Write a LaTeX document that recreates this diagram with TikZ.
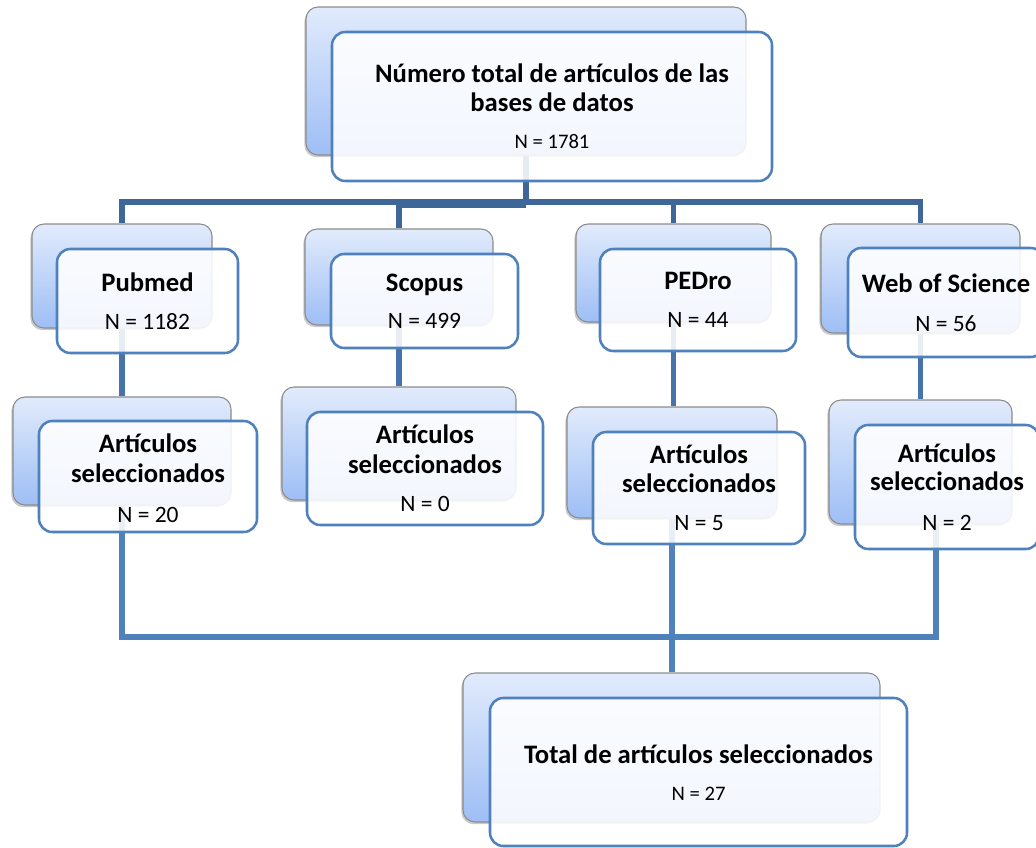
\documentclass[tikz,border=0pt]{standalone}
\usepackage{fontspec}
\setmainfont{Carlito}
\usetikzlibrary{fit,shadows}
\definecolor{backtop}{HTML}{E1EBFC}
\definecolor{backbot}{HTML}{9EBEF5}
\definecolor{frontline}{HTML}{4F81BD}
\definecolor{lineA}{HTML}{3E6698}
\definecolor{lineB}{HTML}{4673AA}
\definecolor{lineC}{HTML}{4F81BD}
\begin{document}
\begin{tikzpicture}[x=0.75pt,y=-0.75pt,
  backbox/.style={inner sep=0pt, rounded corners=9pt, draw=black!45, line width=0.8pt,
    top color=backtop, bottom color=backbot,
    drop shadow={shadow xshift=-1.2pt, shadow yshift=-1.6pt, opacity=0.35, fill=black!60}},
  frontbox/.style={inner sep=0pt, rounded corners=10pt, draw=frontline, line width=1.9pt,
    fill=white, fill opacity=0.88},
  boldtxt/.style={font=\fontsize{20}{24}\selectfont\bfseries, anchor=base, inner sep=0pt},
  ntxt/.style={font=\fontsize{17.6}{21}\selectfont, anchor=base, inner sep=0pt},
  nsmall/.style={font=\fontsize{15.5}{19}\selectfont, anchor=base, inner sep=0pt},
  connA/.style={draw=lineA, line width=3.9pt},
  connB/.style={draw=lineB, line width=3.9pt},
  connC/.style={draw=lineC, line width=4.4pt}]
\useasboundingbox (0,0) rectangle (1036,847);
\clip (0,0) rectangle (1036,847);
\fill[white] (0,0) rectangle (1036,847);

% back boxes
\node (b0) [backbox, fit={(306,7) (746,155)}] {};
\node (b1) [backbox, fit={(32,224) (212,328)}] {};
\node (b2) [backbox, fit={(305,229) (493,325)}] {};
\node (b3) [backbox, fit={(576,224) (771,322)}] {};
\node (b4) [backbox, fit={(821,224) (1020,333)}] {};
\node (c1) [backbox, fit={(13,397) (231,505)}] {};
\node (c2) [backbox, fit={(282,387) (516,500)}] {};
\node (c3) [backbox, fit={(567,407) (777,518)}] {};
\node (c4) [backbox, fit={(829,400) (1012,524)}] {};
\node (e0) [backbox, fit={(463,673) (880,822)}] {};

% connectors
\coordinate (bus) at (0,202);
\coordinate (busb) at (0,205.5);
\coordinate (bus3) at (0,637);
\coordinate (wx) at (936,0);
\draw[connA] (b1.north) -- (b1.north |- bus) -- (b4.north |- bus) -- (b4.north);
\draw[connA] (b0.south) -- (b0.south |- bus);
\draw[connA] (b2.north |- busb) -- (b0.south |- busb);
\draw[connA] (b2.north) -- (b2.north |- bus);
\draw[connA] (b3.north) -- (b3.north |- bus);
\draw[connB] (b1.south) -- (b1.south |- c1.north);
\draw[connB] (b2.south) -- (b2.south |- c2.north);
\draw[connB] (b3.south) -- (b3.south |- c3.north);
\draw[connB] (b4.south) -- (b4.south |- c4.north);
\draw[connC] (c1.south) -- (c1.south |- bus3) -- (wx |- bus3) -- (wx |- c4.south);
\draw[connC] (c3.south) -- (c3.south |- e0.north);

% front boxes
\node (f0) [frontbox, fit={(332,32) (772,181)}] {};
\node (f1) [frontbox, fit={(57,249) (238,353)}] {};
\node (f2) [frontbox, fit={(331,254) (518,348)}] {};
\node (f3) [frontbox, fit={(600,249) (796,351)}] {};
\node (f4) [frontbox, fit={(848,248) (1044,357)}] {};
\node (g1) [frontbox, fit={(39,421) (257,532)}] {};
\node (g2) [frontbox, fit={(307,412) (543,525)}] {};
\node (g3) [frontbox, fit={(593,432) (805,544)}] {};
\node (g4) [frontbox, fit={(855,425) (1039,549)}] {};
\node (h0) [frontbox, fit={(490,698) (907,846)}] {};

% texts
\node (t0a) [boldtxt] at (552,82) {Número total de artículos de las};
\node (t0b) [boldtxt] at (552,111) {bases de datos};
\node (t0c) [nsmall] at (552,148) {N = 1781};

\node (t1a) [boldtxt] at (147.5,291) {Pubmed};
\node (t1b) [ntxt] at (147.5,329) {N = 1182};
\node (t2a) [boldtxt] at (424.5,291) {Scopus};
\node (t2b) [ntxt] at (424.5,328) {N = 499};
\node (t3a) [boldtxt] at (698,289) {PEDro};
\node (t3b) [ntxt] at (698,327) {N = 44};
\node (t4a) [boldtxt] at (946,292) {Web of Science};
\node (t4b) [ntxt] at (946,331) {N = 56};

\node (u1a) [boldtxt] at (148,452) {Artículos};
\node (u1b) [boldtxt] at (148,482) {seleccionados};
\node (u1c) [ntxt] at (148,522) {N = 20};
\node (u2a) [boldtxt] at (425,443) {Artículos};
\node (u2b) [boldtxt] at (425,473) {seleccionados};
\node (u2c) [ntxt] at (425,511) {N = 0};
\node (u3a) [boldtxt] at (699,463) {Artículos};
\node (u3b) [boldtxt] at (699,492) {seleccionados};
\node (u3c) [ntxt] at (699,530) {N = 5};
\node (u4a) [boldtxt] at (947,462) {Artículos};
\node (u4b) [boldtxt] at (947,490) {seleccionados};
\node (u4c) [ntxt] at (947,530) {N = 2};

\node (v0a) [boldtxt] at (698.5,763) {Total de artículos seleccionados};
\node (v0b) [nsmall] at (698.5,800) {N = 27};
\end{tikzpicture}
\end{document}
